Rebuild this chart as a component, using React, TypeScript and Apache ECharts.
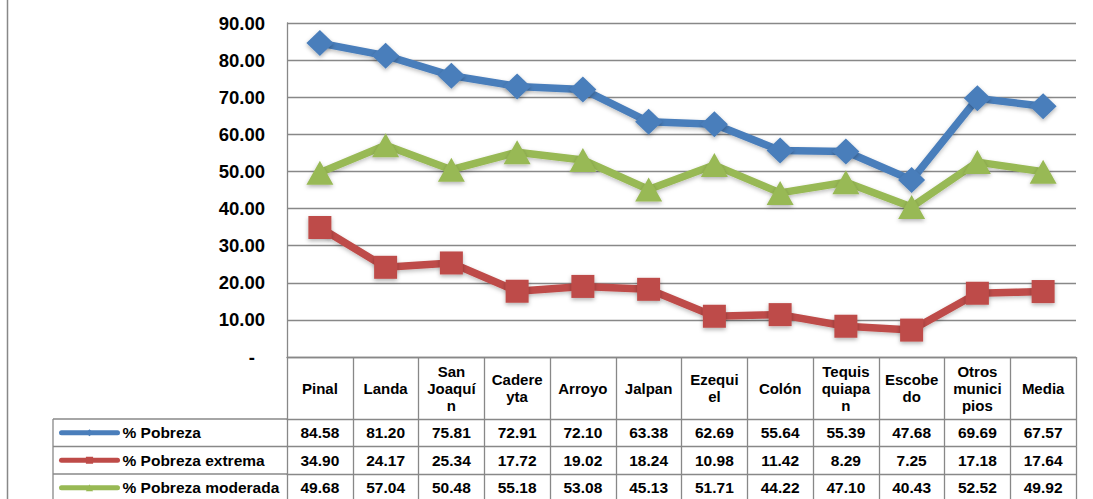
import React, { useEffect, useRef } from "react";
import * as echarts from "echarts";

const categories = [
  "Pinal", "Landa", "San Joaquín", "Cadereyta", "Arroyo", "Jalpan",
  "Ezequiel", "Colón", "Tequisquiapan", "Escobedo", "Otros municipios", "Media",
];
const categoryLabels = [
  "Pinal", "Landa", "San\nJoaquí\nn", "Cadere\nyta", "Arroyo", "Jalpan",
  "Ezequi\nel", "Colón", "Tequis\nquiapa\nn", "Escobe\ndo", "Otros\nmunici\npios", "Media",
];
const pobreza = [84.58, 81.2, 75.81, 72.91, 72.1, 63.38, 62.69, 55.64, 55.39, 47.68, 69.69, 67.57];
const pobrezaExtrema = [34.9, 24.17, 25.34, 17.72, 19.02, 18.24, 10.98, 11.42, 8.29, 7.25, 17.18, 17.64];
const pobrezaModerada = [49.68, 57.04, 50.48, 55.18, 53.08, 45.13, 51.71, 44.22, 47.1, 40.43, 52.52, 49.92];
const seriesNames = ["% Pobreza", "% Pobreza extrema", "% Pobreza moderada"];
const yMin = 0;
const yMax = 90;
const yInterval = 10;

const colors = ["#4A7EBB", "#BE4B48", "#98B954"];
const gridColor = "#888888";
const font = "'Liberation Sans', Arial, sans-serif";

export default function App() {
  const ref = useRef<HTMLDivElement>(null);
  useEffect(() => {
    if (!ref.current) return;
    const chart = echarts.init(ref.current, undefined, { renderer: "svg" });
    const seriesData = [pobreza, pobrezaExtrema, pobrezaModerada];
    const symbols = ["diamond", "rect", "triangle"];
    const symbolSizes: any[] = [[27, 26], 23, [27, 24]];

    const headerH = 62;
    const rowH = 27.5;
    const tableTop = 357;
    const legendIconH = 9;

    const rowAxes = seriesData.map((vals, i) => ({
      type: "category",
      gridIndex: 0,
      position: "bottom",
      offset: headerH + rowH * i,
      data: vals.map((v) => v.toFixed(2)),
      axisLine: { show: true, lineStyle: { color: gridColor, width: 1.3 } },
      axisTick: { show: true, interval: 0, length: rowH, lineStyle: { color: gridColor, width: 1.3 } },
      axisLabel: {
        interval: 0,
        margin: rowH / 2,
        verticalAlign: "middle",
        color: "#000",
        fontFamily: font,
        fontWeight: "bold",
        fontSize: 15.5,
      },
      splitLine: { show: false },
    }));

    const legends = seriesNames.map((name, i) => ({
      orient: "vertical",
      left: 59,
      top: tableTop + headerH + rowH * i + rowH / 2 - legendIconH / 2 - 3.5,
      padding: 0,
      itemWidth: 56,
      itemHeight: legendIconH,
      itemGap: 0,
      lineStyle: { width: 5, cap: "round" },
      textStyle: { color: "#000", fontFamily: font, fontWeight: "bold", fontSize: 15.5 },
      data: [name],
    }));

    chart.setOption({
      animation: false,
      grid: { left: 287, right: 17, top: 23, bottom: 499 - tableTop },
      legend: legends,
      xAxis: [
        {
          type: "category",
          data: categories,
          position: "bottom",
          axisLine: { show: true, lineStyle: { color: gridColor, width: 1.3 } },
          axisTick: { show: true, interval: 0, length: headerH, lineStyle: { color: gridColor, width: 1.3 } },
          axisLabel: {
            interval: 0,
            margin: headerH / 2,
            verticalAlign: "middle",
            lineHeight: 17,
            color: "#000",
            fontFamily: font,
            fontWeight: "bold",
            fontSize: 15,
            formatter: (_v: string, i: number) => categoryLabels[i],
          },
          splitLine: { show: false },
        },
        ...rowAxes,
      ],
      yAxis: {
        type: "value",
        min: yMin,
        max: yMax,
        interval: yInterval,
        axisLine: { show: true, lineStyle: { color: gridColor, width: 1.3 } },
        axisTick: { show: false },
        splitLine: { show: true, lineStyle: { color: gridColor, width: 1.3 } },
        axisLabel: {
          margin: 22,
          color: "#000",
          fontFamily: font,
          fontWeight: "bold",
          fontSize: 18.5,
          formatter: (v: number) => (v === 0 ? "{d|-}" : v.toFixed(2)),
          rich: { d: { padding: [0, 10, 0, 0], fontFamily: font, fontWeight: "bold", fontSize: 18.5, color: "#000" } },
        },
      },
      series: seriesData.map((d, i) => ({
        name: seriesNames[i],
        type: "line",
        data: d,
        symbol: symbols[i],
        symbolSize: symbolSizes[i],
        color: colors[i],
        lineStyle: {
          color: colors[i],
          width: 7.5,
          shadowColor: "rgba(0,0,0,0.25)",
          shadowBlur: 4,
          shadowOffsetY: 2,
        },
        itemStyle: {
          color: colors[i],
          shadowColor: "rgba(0,0,0,0.3)",
          shadowBlur: 4,
          shadowOffsetY: 2,
        },
        z: 3 + (2 - i),
      })),
      graphic: [
        { type: "line", shape: { x1: 7.5, y1: 0, x2: 7.5, y2: 499 }, style: { stroke: gridColor, lineWidth: 1.5 } },
        { type: "line", shape: { x1: 53, y1: 419, x2: 53, y2: 499 }, style: { stroke: gridColor, lineWidth: 1.3 } },
        { type: "line", shape: { x1: 53, y1: 419, x2: 287, y2: 419 }, style: { stroke: gridColor, lineWidth: 1.3 } },
        { type: "line", shape: { x1: 53, y1: 446.5, x2: 287, y2: 446.5 }, style: { stroke: gridColor, lineWidth: 1.3 } },
        { type: "line", shape: { x1: 53, y1: 474, x2: 287, y2: 474 }, style: { stroke: gridColor, lineWidth: 1.3 } },
      ],
    });
    return () => chart.dispose();
  }, []);
  return (
    <div
      ref={ref}
      style={{ position: "absolute", left: 0, top: 0, width: 1093, height: 499, background: "#fff" }}
    />
  );
}
